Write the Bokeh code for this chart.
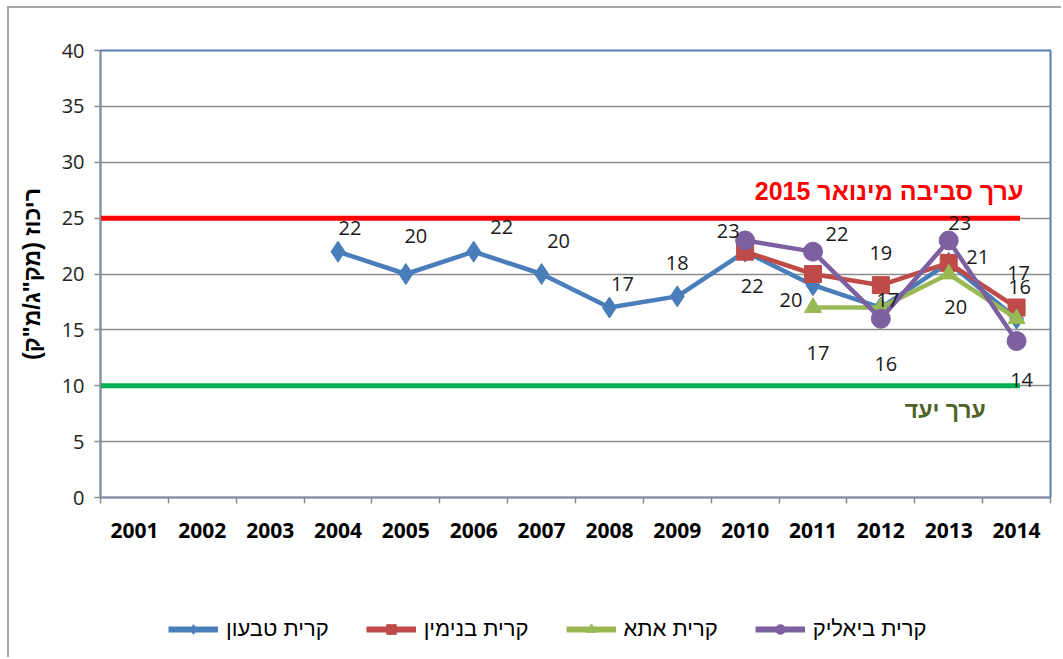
from bokeh.plotting import figure
from bokeh.layouts import column
from bokeh.models import Range1d, FixedTicker, ColumnDataSource, Legend, LegendItem, Label
from bokeh.core.properties import value
from bokeh.embed import file_html
from bokeh.resources import INLINE

# ---------------- data ----------------
years = ["2001", "2002", "2003", "2004", "2005", "2006", "2007",
         "2008", "2009", "2010", "2011", "2012", "2013", "2014"]

tivon_years = ["2004", "2005", "2006", "2007", "2008", "2009", "2010", "2011", "2012", "2013", "2014"]
tivon_vals = [22, 20, 22, 20, 17, 18, 22, 19, 17, 21, 16]

binyamin_years = ["2010", "2011", "2012", "2013", "2014"]
binyamin_vals = [22, 20, 19, 21, 17]

ata_years = ["2011", "2012", "2013", "2014"]
ata_vals = [17, 17, 20, 16]

bialik_years = ["2010", "2011", "2012", "2013", "2014"]
bialik_vals = [23, 22, 16, 23, 14]

env_limit = 25     # ערך סביבה מינואר 2015
target_value = 10  # ערך יעד

y_ticks = [0, 5, 10, 15, 20, 25, 30, 35, 40]

series_names = ["קרית טבעון", "קרית בנימין", "קרית אתא", "קרית ביאליק"]

# which points carry a data label, and the label's pixel offset from the point (style)
tivon_label_years = ["2004", "2005", "2006", "2007", "2008", "2009", "2010"]
tivon_label_off = [(12, -24), (10, -38), (28, -25), (17, -33), (13, -24), (0, -33), (7, 34)]
binyamin_label_years = ["2011", "2012", "2013", "2014"]
binyamin_label_off = [(-22, 26), (0, -32), (29, -6), (2, -35)]
ata_label_years = ["2011", "2012", "2013", "2014"]
ata_label_off = [(5, 45), (7, -8), (7, 33), (3, -32)]
bialik_label_years = ["2010", "2011", "2012", "2013", "2014"]
bialik_label_off = [(-17, -9), (24, -18), (5, 45), (11, -17), (5, 39)]

# ---------------- styling ----------------
BLUE = "#4A7EBB"
RED = "#BE4B48"
GREEN = "#98B954"
PURPLE = "#7D60A0"
GRID = "#8c8c8c"
NUM_FONT = "Open Sans"
HEB_FONT = "Liberation Sans"


def xpos(ys):
    return [years.index(y) + 1 for y in ys]


p = figure(width=1054, height=590, output_backend="svg", toolbar_location=None,
           x_range=Range1d(0.5, 14.5), y_range=Range1d(0, 40),
           min_border_left=91, min_border_top=42, min_border_right=13, min_border_bottom=101,
           background_fill_color="white", border_fill_color="white",
           outline_line_color="#4F81BD", outline_line_width=2)

# axes
p.xaxis.ticker = FixedTicker(ticks=list(range(1, len(years) + 1)),
                             minor_ticks=[i + 0.5 for i in range(0, len(years) + 1)])
p.xaxis.major_label_overrides = {i + 1: y for i, y in enumerate(years)}
p.xaxis.major_tick_line_color = None
p.xaxis.minor_tick_in = 0
p.xaxis.minor_tick_out = 6
p.xaxis.minor_tick_line_color = GRID
p.xaxis.minor_tick_line_width = 1.5
p.xaxis.axis_line_color = GRID
p.xaxis.axis_line_width = 1.5
p.xaxis.major_label_text_font = NUM_FONT
p.xaxis.major_label_text_font_style = "bold"
p.xaxis.major_label_text_font_size = "21px"
p.xaxis.major_label_text_color = "black"
p.xaxis.major_label_standoff = 19

p.yaxis.ticker = FixedTicker(ticks=y_ticks)
p.yaxis.minor_tick_line_color = None
p.yaxis.major_tick_in = 0
p.yaxis.major_tick_out = 6
p.yaxis.major_tick_line_color = GRID
p.yaxis.major_tick_line_width = 1.5
p.yaxis.axis_line_color = GRID
p.yaxis.axis_line_width = 1.5
p.yaxis.major_label_text_font = NUM_FONT
p.yaxis.major_label_text_font_size = "20px"
p.yaxis.major_label_text_color = "#222222"
p.yaxis.major_label_standoff = 10
p.yaxis.axis_label = "ריכוז (מק\"ג/מ\"ק)\u200f"
p.yaxis.axis_label_text_font = HEB_FONT
p.yaxis.axis_label_text_font_style = "bold"
p.yaxis.axis_label_text_font_size = "23px"
p.yaxis.axis_label_text_color = "black"
p.yaxis.axis_label_standoff = 14

p.xgrid.grid_line_color = None
p.ygrid.ticker = FixedTicker(ticks=y_ticks)
p.ygrid.grid_line_color = GRID
p.ygrid.grid_line_width = 1.5

# threshold lines
p.segment(x0=[0.5], x1=[14.05], y0=[env_limit], y1=[env_limit], line_color="#FF0000", line_width=5)
p.segment(x0=[0.5], x1=[14.05], y0=[target_value], y1=[target_value], line_color="#00B050", line_width=5)

p.add_layout(Label(x=14.1, y=27.4, text="ערך סביבה מינואר 2015\u200f", text_align="right",
                   text_baseline="middle", text_font=HEB_FONT, text_font_style="bold",
                   text_font_size="25px", text_color="#FF0000"))
p.add_layout(Label(x=12.95, y=7.8, text="ערך יעד", text_align="center",
                   text_baseline="middle", text_font=HEB_FONT, text_font_style="bold",
                   text_font_size="23px", text_color="#4F6228"))

# series
specs = [
    (tivon_years, tivon_vals, BLUE, "diamond", 21),
    (binyamin_years, binyamin_vals, RED, "square", 17),
    (ata_years, ata_vals, GREEN, "triangle", 17),
    (bialik_years, bialik_vals, PURPLE, "circle", 19),
]
sources = []
for ys, vals, color, marker, size in specs:
    src = ColumnDataSource(dict(x=xpos(ys), y=vals))
    sources.append(src)
    p.line("x", "y", source=src, line_color=color, line_width=4.5)
    p.scatter("x", "y", source=src, marker=marker, size=size,
              fill_color=color, line_color=color)

# data labels
lab_specs = [
    (tivon_years, tivon_vals, tivon_label_years, tivon_label_off),
    (binyamin_years, binyamin_vals, binyamin_label_years, binyamin_label_off),
    (ata_years, ata_vals, ata_label_years, ata_label_off),
    (bialik_years, bialik_vals, bialik_label_years, bialik_label_off),
]
lx, ly, lt, dx, dy = [], [], [], [], []
for ys, vals, lyears, offs in lab_specs:
    for yr, off in zip(lyears, offs):
        v = vals[ys.index(yr)]
        lx.append(years.index(yr) + 1)
        ly.append(v)
        lt.append(str(v))
        dx.append(off[0])
        dy.append(off[1])
lsrc = ColumnDataSource(dict(x=lx, y=ly, t=lt, dx=dx, dy=dy))
p.text("x", "y", text="t", x_offset="dx", y_offset="dy", source=lsrc,
       text_align="center", text_baseline="middle", text_font=value(NUM_FONT),
       text_font_size="20px", text_color="#1a1a1a")

# legend strip below the chart
lg = figure(width=1054, height=61, output_backend="svg", toolbar_location=None,
            x_range=Range1d(1000, 1001), y_range=Range1d(1000, 1001),
            x_axis_location=None, y_axis_location=None,
            min_border=0, outline_line_color=None,
            background_fill_color="white", border_fill_color="white")
lg.grid.visible = False
items = []
for name, src, (ys, vals, color, marker, size) in zip(series_names, sources, specs):
    r1 = lg.line("x", "y", source=src, line_color=color, line_width=6)
    r2 = lg.scatter("x", "y", source=src, marker=marker, size=size,
                    fill_color=color, line_color=color)
    items.append(LegendItem(label=name, renderers=[r1, r2]))
legend = Legend(items=items, orientation="horizontal", location=(68, 17),
                label_text_font=HEB_FONT, label_text_font_size="22px",
                label_text_color="black", glyph_width=50, glyph_height=24,
                label_standoff=8, spacing=37, padding=4, margin=0,
                border_line_color=None, background_fill_alpha=0)
lg.add_layout(legend, "center")

layout = column(p, lg, spacing=0)
layout.styles = {"margin-left": "9px", "margin-top": "8px",
                 "box-shadow": "-2px -2px 0 0 #a6a6a6"}

open("out.html", "w").write(file_html(layout, INLINE))
